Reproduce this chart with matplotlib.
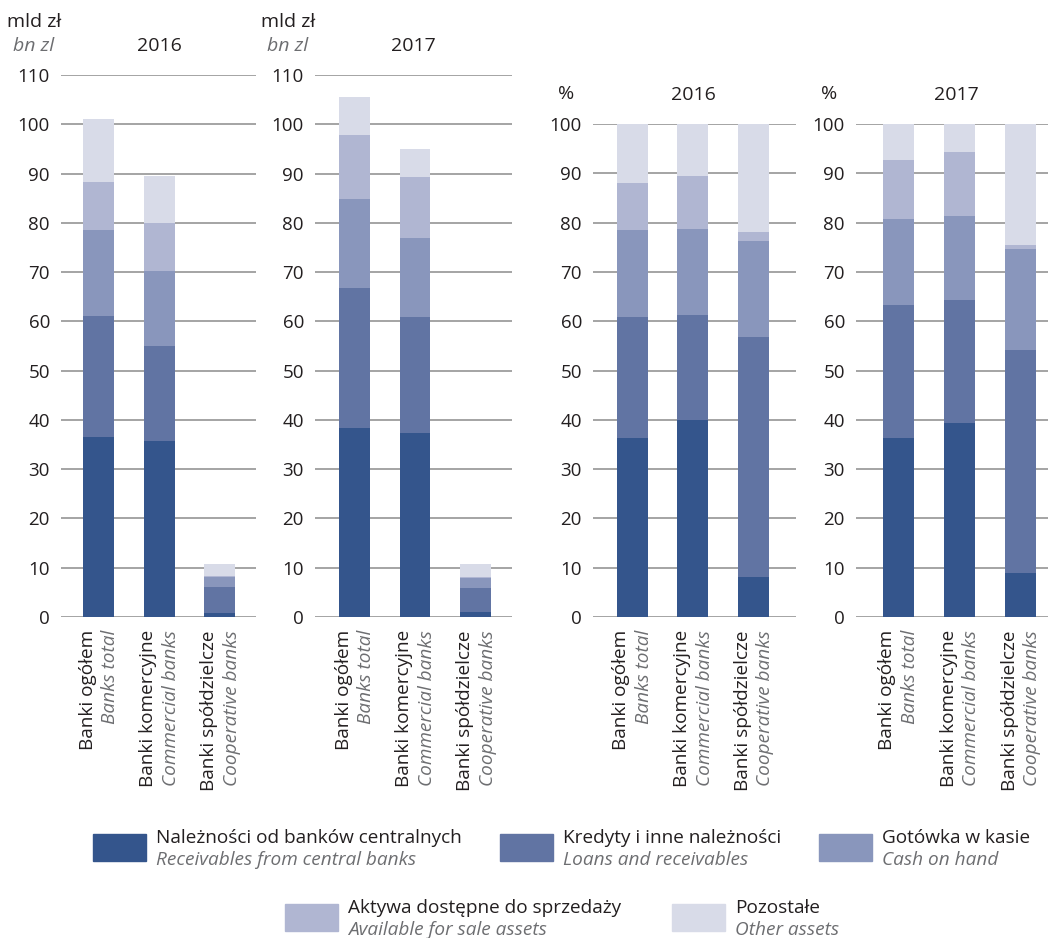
import matplotlib
matplotlib.use("Agg")
import matplotlib.pyplot as plt
from matplotlib.patches import Rectangle
from matplotlib.transforms import offset_copy
import numpy as np

plt.rcParams['font.family'] = ['Open Sans', 'DejaVu Sans']

# categories
cat_pl = ["Banki ogółem", "Banki komercyjne", "Banki spółdzielcze"]
cat_en = ["Banks total", "Commercial banks", "Cooperative banks"]

# legend / series
series_pl = ["Należności od banków centralnych", "Kredyty i inne należności",
             "Gotówka w kasie", "Aktywa dostępne do sprzedaży", "Pozostałe"]
series_en = ["Receivables from central banks", "Loans and receivables",
             "Cash on hand", "Available for sale assets", "Other assets"]
colors = ["#34558c", "#6174a3", "#8996bc", "#b0b6d2", "#d8dbe8"]

# values: rows = series (in order above), cols = categories
bn_2016 = [[36.5, 35.7, 0.8],
           [24.5, 19.2, 5.3],
           [17.5, 15.4, 2.1],
           [9.8, 9.6, 0.2],
           [12.7, 9.6, 2.3]]
bn_2017 = [[38.3, 37.3, 1.0],
           [28.4, 23.5, 4.8],
           [18.1, 16.1, 2.2],
           [13.0, 12.4, 0.1],
           [7.8, 5.7, 2.6]]
pct_2016 = [[36.4, 40.0, 8.2],
            [24.4, 21.2, 48.6],
            [17.6, 17.5, 19.5],
            [9.7, 10.8, 1.8],
            [11.9, 10.5, 21.9]]
pct_2017 = [[36.3, 39.4, 8.9],
            [27.0, 24.9, 45.2],
            [17.5, 17.1, 20.6],
            [11.8, 13.0, 0.8],
            [7.4, 5.6, 24.5]]

W, H = 1048, 938
INK = "#231f20"
GREY = "#6d6e71"
GRID = "#8c8c8c"
FS_TICK = 13.5
FS_TXT = 13.7


def fx(x):
    return x / W


def fy(y):
    return 1 - y / H


fig = plt.figure(figsize=(W / 100, H / 100), dpi=100)
fig.patch.set_facecolor("white")

# (values, year, unit, left px, right px, top px, xlim, ymax)
panels = [
    (bn_2016, "2016", "mld", 61, 256, 75, (-0.62, 2.60), 110),
    (bn_2017, "2017", "mld", 315, 512, 75, (-0.65, 2.60), 110),
    (pct_2016, "2016", "%", 593, 796, 124, (-0.645, 2.70), 100),
    (pct_2017, "2017", "%", 856, 1048, 124, (-0.69, 2.45), 100),
]
bottom_px = 617

for vals, year, unit, l, r, t, xl, ymax in panels:
    ax = fig.add_axes([fx(l), fy(bottom_px), (r - l) / W, (bottom_px - t) / H])
    x = np.arange(3)
    base = np.zeros(3)
    for k, row in enumerate(vals):
        row = np.array(row)
        ax.bar(x, row, bottom=base, width=0.51, color=colors[k], zorder=3, linewidth=0)
        base += row
    ax.set_xlim(*xl)
    ax.set_ylim(0, ymax)
    ax.set_yticks(np.arange(0, ymax + 1, 10))
    ax.set_xticks([])
    ax.grid(axis="y", color=GRID, lw=1.1, zorder=0)
    ax.set_axisbelow(True)
    for s in ax.spines.values():
        s.set_visible(False)
    ax.tick_params(axis="y", length=0, pad=8, labelsize=FS_TICK, labelcolor=INK)

    # rotated two-line category labels
    tr = ax.get_xaxis_transform()
    for i in range(3):
        t1 = offset_copy(tr, fig=fig, x=-7.8, y=-9.4, units="points")
        t2 = offset_copy(tr, fig=fig, x=8.6, y=-9.4, units="points")
        ax.text(i, 0, cat_pl[i], transform=t1, rotation=90, rotation_mode="anchor",
                ha="right", va="center", fontsize=FS_TXT, color=INK)
        ax.text(i, 0, cat_en[i], transform=t2, rotation=90, rotation_mode="anchor",
                ha="right", va="center", fontsize=FS_TXT, color=GREY, style="italic")

    # headers
    if unit == "mld":
        cx = l - 27
        fig.text(fx(cx), fy(22), "mld zł", ha="center", va="center", fontsize=14, color=INK)
        fig.text(fx(cx), fy(46), "bn zl", ha="center", va="center", fontsize=14,
                 color=GREY, style="italic")
        fig.text(fx(l + 98), fy(46), year, ha="center", va="center", fontsize=14, color=INK)
    else:
        fig.text(fx(l - 27), fy(94), "%", ha="center", va="center", fontsize=14, color=INK)
        fig.text(fx(l + 100), fy(95), year, ha="center", va="center", fontsize=14, color=INK)

# legend drawn by hand: (patch left px, patch top px)
legend_pos = [(93, 834), (500, 834), (819, 834), (285, 904), (672, 904)]
for k, (px, py) in enumerate(legend_pos):
    fig.patches.append(Rectangle((fx(px), fy(py + 27)), 53 / W, 27 / H,
                                 transform=fig.transFigure, color=colors[k]))
    fig.text(fx(px + 63), fy(py + 9), series_pl[k], ha="left", va="baseline",
             fontsize=FS_TXT, color=INK)
    fig.text(fx(px + 63), fy(py + 31), series_en[k], ha="left", va="baseline",
             fontsize=FS_TXT, color=GREY, style="italic")

fig.savefig("out.png", dpi=100, facecolor="white")
